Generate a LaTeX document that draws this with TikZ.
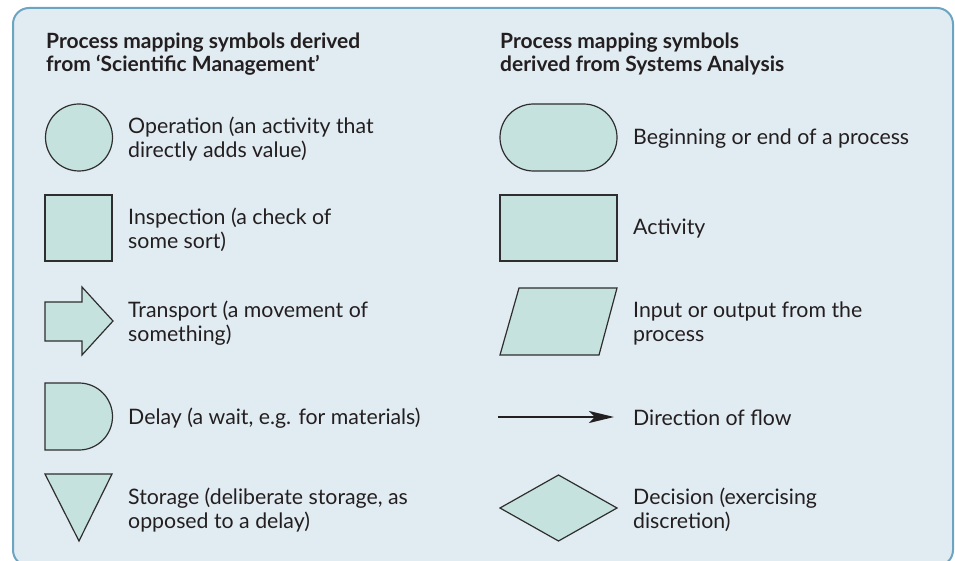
\documentclass[tikz,border=0pt]{standalone}
\usepackage{fontspec}
\setmainfont{Lato}
\usetikzlibrary{arrows.meta}
\definecolor{frameline}{HTML}{6CA5C2}
\definecolor{framefill}{HTML}{E1EBF2}
\definecolor{shapefill}{HTML}{C5E2DF}
\definecolor{ink}{HTML}{231F20}
\definecolor{shapeline}{HTML}{2E2E2E}
\tikzset{
  sym/.style={draw=shapeline, fill=shapefill, line width=1.2pt, line join=miter},
  lbl/.style={anchor=west, align=left, inner sep=0pt, text=ink, font=\fontsize{21.3}{24}\selectfont},
  ttl/.style={anchor=north west, align=left, inner sep=0pt, text=ink, font=\fontsize{21}{23}\selectfont\bfseries}
}
\begin{document}
\begin{tikzpicture}[x=1pt,y=-1pt]
\useasboundingbox (0,0) rectangle (955,561);
\draw[draw=frameline, fill=framefill, line width=2pt, rounded corners=16pt] (13,8) rectangle (953,566);
% titles
\node[ttl] (t1) at (46,33) {Process mapping symbols derived\\from ‘Scientific Management’};
\node[ttl] (t2) at (500,33) {Process mapping symbols\\derived from Systems Analysis};
% left column shapes
\draw[sym] (79,137.5) circle[radius=33.5];
\draw[sym] (45,195) rectangle (112,261);
\draw[sym] (45,302) -- (82,302) -- (82,287) -- (113,321) -- (82,355) -- (82,341) -- (45,341) -- cycle;
\draw[sym] (45,383) -- (79,383) arc[start angle=-90, end angle=90, radius=33.5] -- (45,450) -- cycle;
\draw[sym] (45,474) -- (112,474) -- (79,541) -- cycle;
% right column shapes
\draw[sym, rounded corners=33.5pt] (500,104) rectangle (617,171);
\draw[sym] (500,195) rectangle (617,261);
\draw[sym] (519,288) -- (617,288) -- (599,355) -- (500,355) -- cycle;
\coordinate (fs) at (498,417);
\coordinate (fe) at (614,417);
\draw[line width=2pt, draw=ink, -{Stealth[length=25pt,width=12pt,inset=6pt]}] (fs) -- (fe);
\draw[sym, line join=miter] (558.5,475) -- (617,508) -- (558.5,541) -- (500,508) -- cycle;
% labels
\node[lbl] (l1) at (128,139) {Operation (an activity that\\directly adds value)};
\node[lbl] (l2) at (128,230) {Inspection (a check of\\some sort)};
\node[lbl] (l3) at (128,323) {Transport (a movement of\\something)};
\node[lbl] (l4) at (128,418) {Delay (a wait, e.g. for materials)};
\node[lbl] (l5) at (128,510) {Storage (deliberate storage, as\\opposed to a delay)};
\node[lbl] (r1) at (633,139) {Beginning or end of a process};
\node[lbl] (r2) at (633,229) {Activity};
\node[lbl] (r3) at (633,323) {Input or output from the\\process};
\node[lbl] (r4) at (633,418) {Direction of flow};
\node[lbl] (r5) at (633,510) {Decision (exercising\\discretion)};
\end{tikzpicture}
\end{document}
